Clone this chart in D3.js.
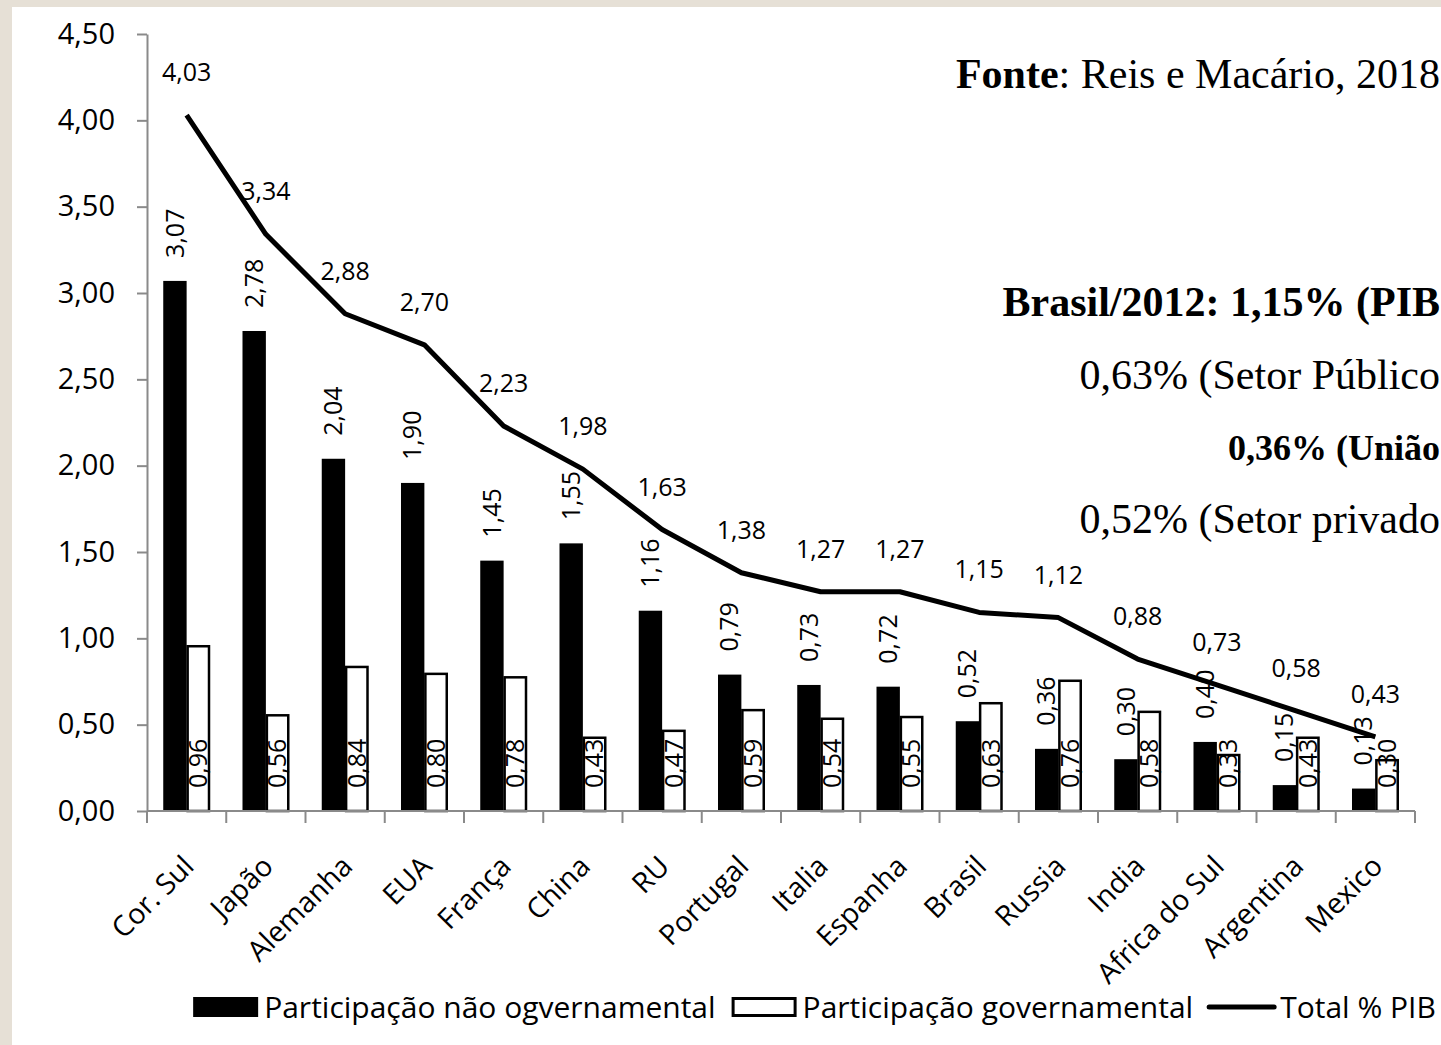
<!DOCTYPE html>
<html><head><meta charset="utf-8">
<script src="https://cdn.jsdelivr.net/npm/d3@7"></script>
<style>html,body{margin:0;padding:0;background:#fff;}svg{display:block;}</style>
</head><body>
<script>
const categories = ["Cor. Sul","Japão","Alemanha","EUA","França","China","RU","Portugal","Italia","Espanha","Brasil","Russia","India","Africa do Sul","Argentina","Mexico"];
const nonGov = [3.07,2.78,2.04,1.90,1.45,1.55,1.16,0.79,0.73,0.72,0.52,0.36,0.30,0.40,0.15,0.13];
const gov    = [0.96,0.56,0.84,0.80,0.78,0.43,0.47,0.59,0.54,0.55,0.63,0.76,0.58,0.33,0.43,0.30];
const total  = [4.03,3.34,2.88,2.70,2.23,1.98,1.63,1.38,1.27,1.27,1.15,1.12,0.88,0.73,0.58,0.43];
const yTicks = [0,0.5,1,1.5,2,2.5,3,3.5,4,4.5];
const seriesNames = ["Participação não ogvernamental","Participação governamental","Total % PIB"];
const notes = [
  {parts:[{t:"Fonte",b:true},{t:": Reis e Macário, 2018",b:false}], size:42},
  {parts:[{t:"Brasil/2012: 1,15% (PIB",b:true}], size:42},
  {parts:[{t:"0,63% (Setor Público",b:false}], size:42},
  {parts:[{t:"0,36% (União",b:true}], size:36},
  {parts:[{t:"0,52% (Setor privado",b:false}], size:42}
];

const W = 1441, H = 1045;
const SANS = "'Open Sans', 'Noto Sans', sans-serif";
const SERIF = "'Liberation Serif', 'Times New Roman', serif";
const fmt = v => v.toFixed(2).replace(".", ",");

const svg = d3.select("body").append("svg").attr("width", W).attr("height", H);
svg.append("rect").attr("width", W).attr("height", H).attr("fill", "#e6e0d6");
svg.append("rect").attr("x", 12).attr("y", 7).attr("width", W - 12).attr("height", H - 7).attr("fill", "#fff");

const plot = {left: 147, right: 1415, top: 34, bottom: 811};
const x = d3.scaleBand().domain(categories).range([plot.left, plot.right]).padding(0);
const y = d3.scaleLinear().domain([0, 4.5]).range([plot.bottom, plot.top]);
const bw = x.bandwidth();
const barW = bw * 0.295;
const cx = c => x(c) + bw / 2;

const data = categories.map((c, i) => ({c, ng: nonGov[i], g: gov[i], t: total[i]}));

// bars
const g = svg.append("g");
g.selectAll("rect.ng").data(data).join("rect").attr("class", "ng")
  .attr("x", d => cx(d.c) - barW).attr("width", barW)
  .attr("y", d => y(d.ng)).attr("height", d => y(0) - y(d.ng))
  .attr("fill", "#000");
g.selectAll("rect.gv").data(data).join("rect").attr("class", "gv")
  .attr("x", d => cx(d.c) + 1).attr("width", barW - 2)
  .attr("y", d => y(d.g) + 1).attr("height", d => y(0) - y(d.g) - 1)
  .attr("fill", "#fff").attr("stroke", "#000").attr("stroke-width", 2.5);

// axes
const axisColor = "#8a8a8a";
const yAxis = svg.append("g").attr("transform", `translate(${plot.left},0)`)
  .call(d3.axisLeft(y).tickValues(yTicks).tickFormat(fmt).tickSize(10).tickSizeOuter(0).tickPadding(22));
yAxis.select(".domain").attr("stroke", axisColor).attr("stroke-width", 2);
yAxis.selectAll(".tick line").attr("stroke", axisColor).attr("stroke-width", 2);
yAxis.selectAll(".tick text").attr("font-family", SANS).attr("font-size", 29).attr("fill", "#000");

const xa = svg.append("g");
xa.append("line").attr("x1", plot.left).attr("x2", plot.right).attr("y1", y(0)).attr("y2", y(0))
  .attr("stroke", axisColor).attr("stroke-width", 2);
const bounds = categories.map(c => x(c)).concat([x.range()[1]]);
xa.selectAll("line.tk").data(bounds).join("line").attr("class", "tk")
  .attr("x1", d => d).attr("x2", d => d).attr("y1", y(0)).attr("y2", y(0) + 12)
  .attr("stroke", axisColor).attr("stroke-width", 2);
xa.selectAll("text").data(categories).join("text")
  .attr("transform", c => `translate(${cx(c) + 9},${y(0) + 57}) rotate(-45)`)
  .attr("text-anchor", "end").attr("font-family", SANS).attr("font-size", 28.5).attr("fill", "#000")
  .text(c => c);

// line
const line = d3.line().x(d => cx(d.c)).y(d => y(d.t));
svg.append("path").datum(data).attr("d", line).attr("fill", "none")
  .attr("stroke", "#000").attr("stroke-width", 5).attr("stroke-linejoin", "round");

// labels
const lab = svg.append("g").attr("font-family", SANS).attr("font-size", 25).attr("fill", "#000");
lab.selectAll("text.t").data(data).join("text").attr("class", "t")
  .attr("x", d => cx(d.c)).attr("y", d => y(d.t) - 34).attr("text-anchor", "middle").text(d => fmt(d.t));
lab.selectAll("text.ng").data(data).join("text").attr("class", "ng")
  .attr("transform", d => `translate(${cx(d.c) - barW / 2},${y(d.ng) - 23}) rotate(-90)`)
  .attr("dy", "0.35em").text(d => fmt(d.ng));
lab.selectAll("text.gv").data(data).join("text").attr("class", "gv")
  .attr("transform", d => `translate(${cx(d.c) + barW / 2},${y(0) - 23}) rotate(-90)`)
  .attr("dy", "0.35em").text(d => fmt(d.g));

// notes
const baselines = [88, 316, 389, 460, 533];
notes.forEach((n, i) => {
  const t = svg.append("text").attr("x", 1440).attr("y", baselines[i]).attr("text-anchor", "end")
    .attr("font-family", SERIF).attr("font-size", n.size).attr("fill", "#000");
  n.parts.forEach(p => t.append("tspan").attr("font-weight", p.b ? "bold" : "normal").text(p.t));
});

// legend
const leg = svg.append("g");
const ly = 1007, symW = 65, symH = 20, gapT = 6, gapI = 16;
const items = seriesNames.map((name, i) => {
  const gi = leg.append("g");
  if (i === 0) gi.append("rect").attr("x", 0).attr("y", ly - symH / 2).attr("width", symW).attr("height", symH).attr("fill", "#000");
  else if (i === 1) gi.append("rect").attr("x", 1.5).attr("y", ly - symH / 2 + 1.5).attr("width", symW - 3).attr("height", symH - 3).attr("fill", "#fff").attr("stroke", "#000").attr("stroke-width", 3);
  else gi.append("line").attr("x1", 0).attr("x2", symW).attr("y1", ly).attr("y2", ly).attr("stroke", "#000").attr("stroke-width", 5).attr("stroke-linecap", "round");
  const tx = gi.append("text").attr("x", symW + gapT).attr("y", ly).attr("dy", "0.36em")
    .attr("font-family", SANS).attr("font-size", 30).attr("fill", "#000").text(name);
  return {gi, w: symW + gapT + tx.node().getComputedTextLength()};
});
const totalW = d3.sum(items, d => d.w) + gapI * (items.length - 1);
let lx = 814.5 - totalW / 2;
items.forEach(it => { it.gi.attr("transform", `translate(${lx},0)`); lx += it.w + gapI; });
</script>
</body></html>
